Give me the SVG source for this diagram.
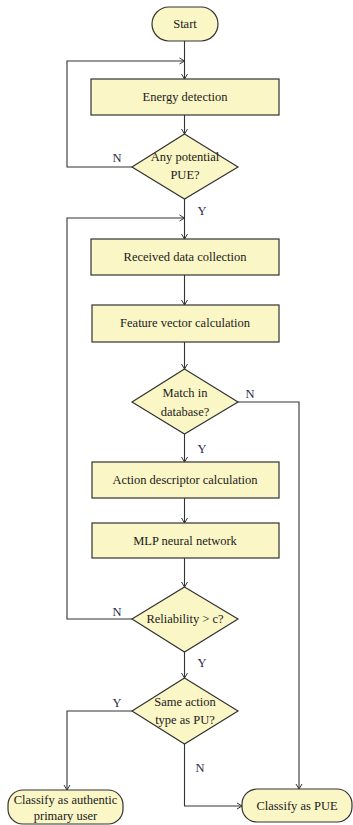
<svg xmlns="http://www.w3.org/2000/svg" width="353" height="825" viewBox="0 0 353 825">
<style>
.n{fill:#faf6c6;stroke:#333;stroke-width:1.2}
.t{font-family:"Liberation Serif",serif;font-size:12.5px;fill:#1a1a1a;text-anchor:middle}
.l{font-family:"Liberation Serif",serif;font-size:12.5px;fill:#1f2a4a;text-anchor:middle}
.c{fill:none;stroke:#333;stroke-width:1.1}
</style>
<defs>
<marker id="a" markerWidth="8" markerHeight="8" refX="6" refY="4" orient="auto" markerUnits="userSpaceOnUse">
<path d="M1,1 L6,4 L1,7" fill="none" stroke="#333" stroke-width="1"/>
</marker>
</defs>
<rect width="353" height="825" fill="#fff"/>
<g id="connectors">
<path class="c" d="M184.5,41 V79" marker-end="url(#a)"/>
<path class="c" d="M132,167 H67 V61 H184.5" marker-end="url(#a)"/>
<path class="c" d="M184.5,115 V134" marker-end="url(#a)"/>
<path class="c" d="M184.5,199 V239" marker-end="url(#a)"/>
<path class="c" d="M132,619 H67 V218 H184.5" marker-end="url(#a)"/>
<path class="c" d="M184.5,275 V305" marker-end="url(#a)"/>
<path class="c" d="M184.5,342 V369" marker-end="url(#a)"/>
<path class="c" d="M238,402 H299 V789" marker-end="url(#a)"/>
<path class="c" d="M184.5,434 V462" marker-end="url(#a)"/>
<path class="c" d="M184.5,498 V523" marker-end="url(#a)"/>
<path class="c" d="M184.5,558 V587" marker-end="url(#a)"/>
<path class="c" d="M184.5,652 V678" marker-end="url(#a)"/>
<path class="c" d="M132,711 H67 V790" marker-end="url(#a)"/>
<path class="c" d="M184.5,744 V806 H242" marker-end="url(#a)"/>
<text class="l" x="117" y="162">N</text>
<text class="l" x="202" y="215">Y</text>
<text class="l" x="250" y="398">N</text>
<text class="l" x="202" y="453">Y</text>
<text class="l" x="117" y="616">N</text>
<text class="l" x="202" y="667">Y</text>
<text class="l" x="117" y="707">Y</text>
<text class="l" x="200" y="772">N</text>
</g>
<g id="start"><rect class="n" x="152" y="7" width="66" height="34" rx="17"/><text class="t" x="185" y="28">Start</text></g>
<g id="energy"><rect class="n" x="91" y="79" width="188" height="36"/><text class="t" x="185" y="101">Energy detection</text></g>
<g id="pue"><polygon class="n" points="184.5,134 238,167 184.5,199 132,167"/><text class="t" x="185" y="161">Any potential</text><text class="t" x="185" y="179">PUE?</text></g>
<g id="received"><rect class="n" x="91" y="239" width="188" height="36"/><text class="t" x="185" y="261">Received data collection</text></g>
<g id="feature"><rect class="n" x="92" y="305" width="187" height="37"/><text class="t" x="185" y="327">Feature vector calculation</text></g>
<g id="match"><polygon class="n" points="184.5,369 238,402 184.5,434 132,402"/><text class="t" x="185" y="397">Match in</text><text class="t" x="185" y="416">database?</text></g>
<g id="action"><rect class="n" x="92" y="462" width="187" height="36"/><text class="t" x="185" y="484">Action descriptor calculation</text></g>
<g id="mlp"><rect class="n" x="92" y="523" width="187" height="35"/><text class="t" x="185" y="545">MLP neural network</text></g>
<g id="reliability"><polygon class="n" points="184.5,587 238,619 184.5,652 132,619"/><text class="t" x="185" y="623">Reliability &gt; c?</text></g>
<g id="same"><polygon class="n" points="184.5,678 238,711 184.5,744 132,711"/><text class="t" x="185" y="706">Same action</text><text class="t" x="185" y="724">type as PU?</text></g>
<g id="authentic"><rect class="n" x="8" y="790" width="115" height="34" rx="15"/><text class="t" x="65.5" y="804">Classify as authentic</text><text class="t" x="65.5" y="820">primary user</text></g>
<g id="classpue"><rect class="n" x="242" y="789" width="110" height="33" rx="15"/><text class="t" x="297" y="810">Classify as PUE</text></g>
</svg>
